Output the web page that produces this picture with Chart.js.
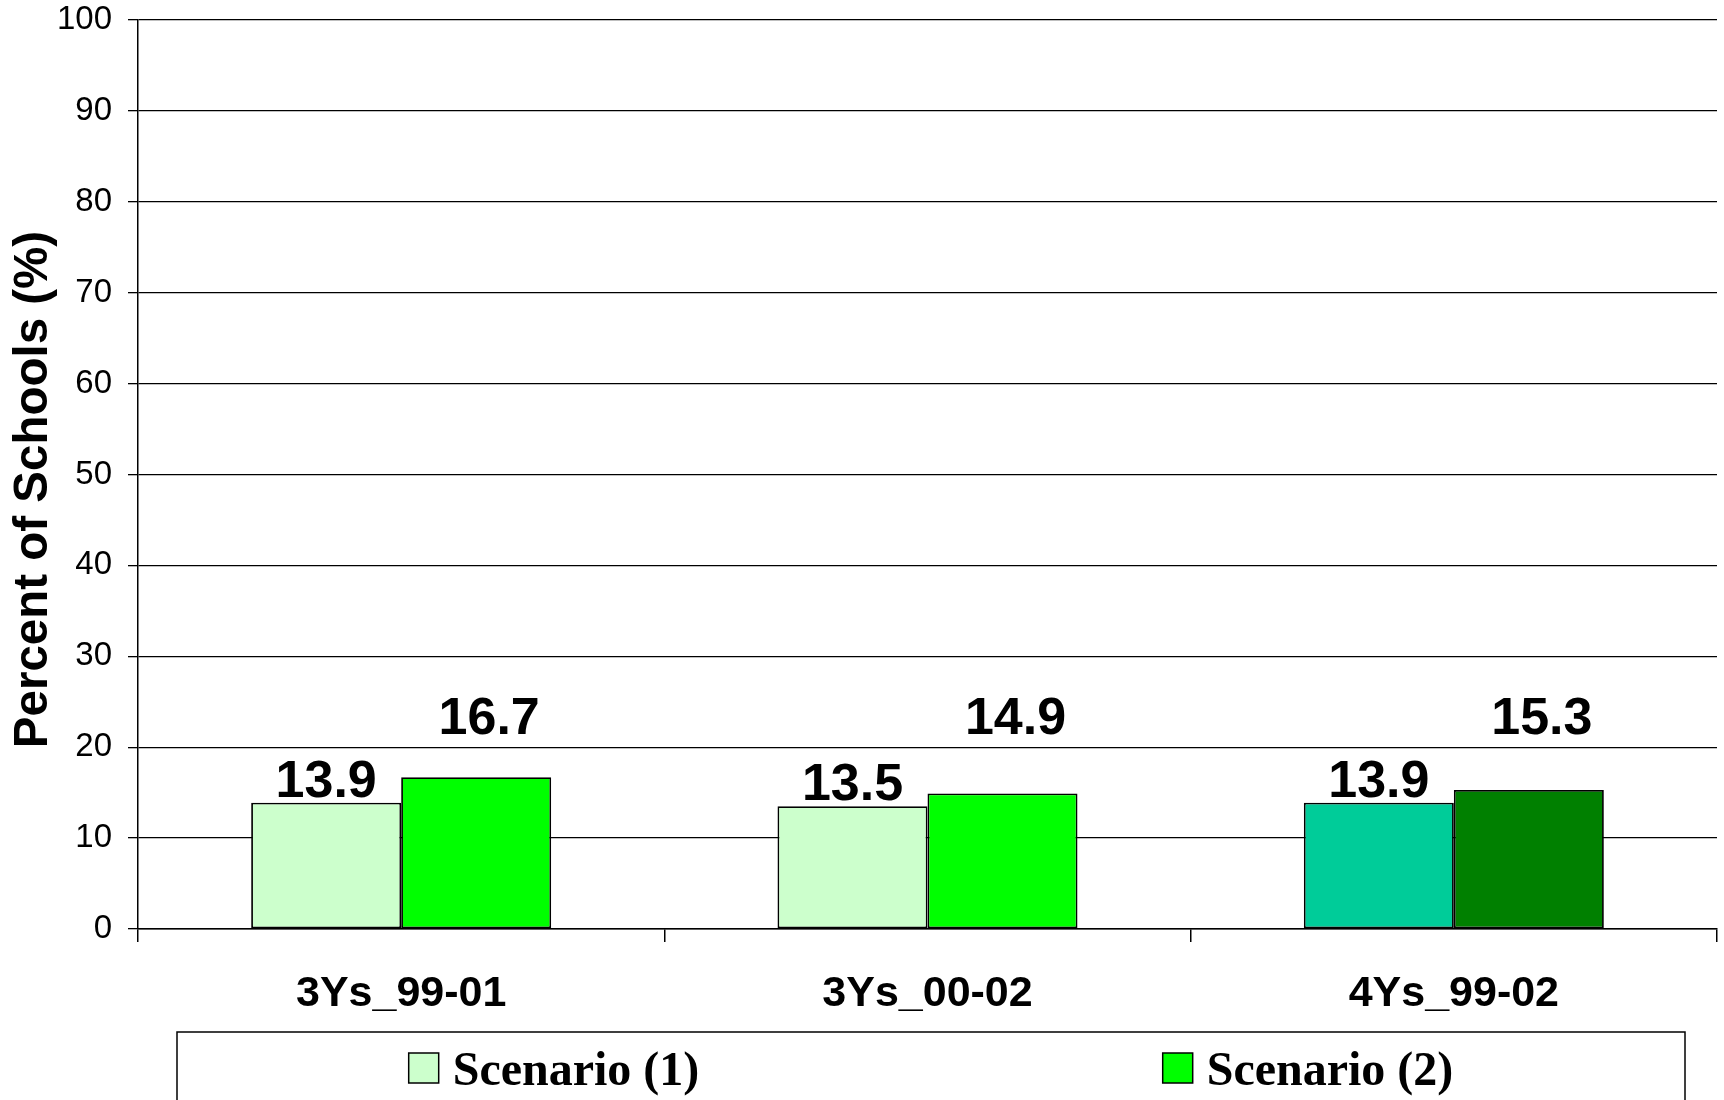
<!DOCTYPE html>
<html>
<head>
<meta charset="utf-8">
<title>Percent of Schools</title>
<script src="https://cdn.jsdelivr.net/npm/chart.js@4/dist/chart.umd.min.js"></script>
<style>
  html, body { margin: 0; padding: 0; background: #ffffff; }
  canvas { display: block; }
</style>
</head>
<body>
<canvas id="chart" width="1724" height="1100"></canvas>
<script>
// Categories and series values
const categories = ['3Ys_99-01', '3Ys_00-02', '4Ys_99-02'];
const seriesNames = ['Scenario (1)', 'Scenario (2)'];
const scenario1 = [13.9, 13.5, 13.9];
const scenario2 = [16.7, 14.9, 15.3];

// Value axis
const yMin = 0;
const yMax = 100;
const yStep = 10;
const yTitle = 'Percent of Schools (%)';

// Fill colours per bar (the last group uses a darker pair)
const scenario1Colors = ['#CCFFCC', '#CCFFCC', '#00CC99'];
const scenario2Colors = ['#00FF00', '#00FF00', '#008000'];

const SANS = "'Liberation Sans', Arial, sans-serif";
const SERIF = "'Liberation Serif', 'Times New Roman', serif";

// Value labels above the bars
const valueLabelPlugin = {
  id: 'valueLabels',
  afterDatasetsDraw(chart) {
    const ctx = chart.ctx;
    const yScale = chart.scales.y;
    ctx.save();
    ctx.font = 'bold 52px ' + SANS;
    ctx.fillStyle = '#000000';
    ctx.textAlign = 'center';
    ctx.textBaseline = 'alphabetic';
    chart.data.datasets.forEach((ds, i) => {
      const meta = chart.getDatasetMeta(i);
      const lab = ds.valueLabel || {};
      meta.data.forEach((bar, j) => {
        const v = ds.data[j];
        const x = bar.x + (lab.dx || 0);
        const y = (lab.line != null) ? yScale.getPixelForValue(lab.line) : bar.y + (lab.dy || 0);
        ctx.fillText(v.toFixed(1), x, y);
      });
    });
    ctx.restore();
  }
};

// Rotated value-axis title, set a little below the middle of the plot
const axisTitlePlugin = {
  id: 'axisTitle',
  afterDraw(chart, args, opts) {
    const ctx = chart.ctx;
    const area = chart.chartArea;
    ctx.save();
    ctx.translate(opts.x, (area.top + area.bottom) / 2 + opts.shift);
    ctx.rotate(-Math.PI / 2);
    ctx.font = 'bold 47.5px ' + SANS;
    ctx.fillStyle = '#000000';
    ctx.textAlign = 'center';
    ctx.textBaseline = 'middle';
    ctx.fillText(opts.text, 0, 0);
    ctx.restore();
  }
};

// Boxed legend along the bottom edge
const boxLegendPlugin = {
  id: 'boxLegend',
  afterDraw(chart, args, opts) {
    const ctx = chart.ctx;
    const left = opts.left, right = opts.right, top = opts.top;
    ctx.save();
    ctx.lineWidth = 1.5;
    ctx.strokeStyle = '#000000';
    ctx.strokeRect(left, top, right - left, chart.height - top + 10);

    ctx.font = 'bold 48px ' + SERIF;
    ctx.textBaseline = 'alphabetic';
    ctx.textAlign = 'left';
    const n = chart.data.datasets.length;
    const colW = (right - left) / n;
    chart.data.datasets.forEach((ds, i) => {
      const sw = opts.swatch;
      const gap = opts.gap;
      const tw = ctx.measureText(ds.label).width;
      const total = sw + gap + tw;
      const cx = left + colW * (i + 0.5);
      const x0 = cx - total / 2;
      const fill = Array.isArray(ds.backgroundColor) ? ds.backgroundColor[0] : ds.backgroundColor;
      ctx.fillStyle = fill;
      ctx.fillRect(x0, opts.swatchTop, sw, sw);
      ctx.lineWidth = 1.5;
      ctx.strokeStyle = '#000000';
      ctx.strokeRect(x0, opts.swatchTop, sw, sw);
      ctx.fillStyle = '#000000';
      ctx.fillText(ds.label, x0 + sw + gap, opts.textBaseline);
    });
    ctx.restore();
  }
};

const chart = new Chart(document.getElementById('chart'), {
  type: 'bar',
  data: {
    labels: categories,
    datasets: [
      {
        label: seriesNames[0],
        data: scenario1,
        backgroundColor: scenario1Colors,
        borderColor: '#000000',
        borderWidth: 1.8,
        borderSkipped: false,
        categoryPercentage: 0.57,
        barPercentage: 1.0,
        valueLabel: { dx: 0, dy: -6 }
      },
      {
        label: seriesNames[1],
        data: scenario2,
        backgroundColor: scenario2Colors,
        borderColor: '#000000',
        borderWidth: 1.8,
        borderSkipped: false,
        categoryPercentage: 0.57,
        barPercentage: 1.0,
        valueLabel: { dx: 13, line: 21.4 }
      }
    ]
  },
  options: {
    responsive: false,
    devicePixelRatio: 1,
    animation: false,
    layout: { padding: { top: 20, right: 7, left: 0, bottom: 0 } },
    plugins: {
      legend: { display: false },
      tooltip: { enabled: false },
      axisTitle: { text: yTitle, x: 34, shift: 15 },
      boxLegend: {
        left: 177, right: 1685, top: 1032,
        swatch: 30, gap: 14, swatchTop: 1053, textBaseline: 1085
      }
    },
    scales: {
      x: {
        grid: {
          display: true,
          drawOnChartArea: false,
          drawTicks: true,
          tickLength: 13,
          color: '#000000',
          lineWidth: 1.5
        },
        border: { display: true, color: '#000000', width: 1.5 },
        ticks: {
          color: '#000000',
          padding: 26,
          font: { family: SANS, size: 43, weight: 'bold' },
          maxRotation: 0
        },
        afterFit(scale) { scale.height = 171; }
      },
      y: {
        min: yMin,
        max: yMax,
        ticks: {
          stepSize: yStep,
          color: '#000000',
          padding: 16,
          font: { family: SANS, size: 33 }
        },
        grid: {
          color: '#000000',
          lineWidth: 1.3,
          tickLength: 10,
          drawTicks: true
        },
        border: { display: true, color: '#000000', width: 1.5 },
        afterFit(scale) {
          scale.width = 138;
          scale.paddingTop = 0;
          scale.paddingBottom = 0;
        }
      }
    }
  },
  plugins: [valueLabelPlugin, axisTitlePlugin, boxLegendPlugin]
});
</script>
</body>
</html>
